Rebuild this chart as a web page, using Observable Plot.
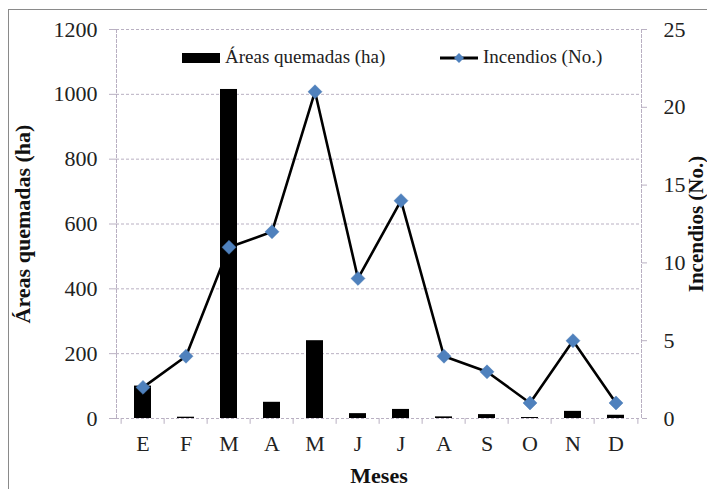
<!DOCTYPE html>
<html>
<head>
<meta charset="utf-8">
<script src="https://cdn.jsdelivr.net/npm/d3@7"></script>
<script src="https://cdn.jsdelivr.net/npm/@observablehq/plot@0.6"></script>
<style>
  html, body { margin: 0; padding: 0; background: #fff; }
  #wrap { position: relative; width: 707px; height: 489px; overflow: hidden; font-family: 'Liberation Serif', 'Tinos', 'DejaVu Serif', 'Times New Roman', serif; }
  #border { position: absolute; left: 8px; top: 9px; width: 720px; height: 500px; border-top: 1px solid #8a8a8a; border-left: 1px solid #8a8a8a; pointer-events: none; }
  #legend { position: absolute; top: 45px; left: 182px; font-size: 19px; color: #222; }
  .item { position: absolute; top: 0; white-space: nowrap; height: 24px; line-height: 24px; }
  svg text { font-family: 'Liberation Serif', 'Tinos', 'DejaVu Serif', 'Times New Roman', serif !important; }
</style>
</head>
<body>
<div id="wrap">
  <div id="chart"></div>
  <div id="legend">
    <div class="item" style="left:0px;">
      <span style="display:inline-block;width:38px;height:10px;background:#000;vertical-align:middle;margin-right:5px;position:relative;top:-1px;"></span><span id="lg1"></span>
    </div>
    <div class="item" style="left:258px;">
      <svg width="40" height="16" style="vertical-align:middle;margin-right:3px;position:relative;top:-1px;">
        <line x1="0" y1="8" x2="38" y2="8" stroke="#000" stroke-width="3"/>
        <path d="M19,3 L24,8 L19,13 L14,8 Z" fill="#4f81bd"/>
      </svg><span id="lg2"></span>
    </div>
  </div>
  <div id="border"></div>
</div>
<script>
const months = ["E","F","M","A","M","J","J","A","S","O","N","D"];
const areas = [100, 4, 1015, 50, 240, 15, 28, 5, 12, 3, 22, 10];
const fires = [2, 4, 11, 12, 21, 9, 14, 4, 3, 1, 5, 1];
const leftTicks = [0, 200, 400, 600, 800, 1000, 1200];
const rightTicks = [0, 5, 10, 15, 20, 25];
const seriesNames = ["Áreas quemadas (ha)", "Incendios (No.)"];
const xTitle = "Meses";

document.getElementById("lg1").textContent = seriesNames[0];
document.getElementById("lg2").textContent = seriesNames[1];

const W = 707, H = 489;
const mL = 116, mR = 66, mT = 29, mB = 71;
const k = 1200 / 25;
const idx = d3.range(months.length);
const half = (W - mL - mR) / months.length / 2;
const gridColor = "#b9b0c2";
const serif = "'Liberation Serif', 'Tinos', 'DejaVu Serif', 'Times New Roman', serif";

const chart = Plot.plot({
  width: W, height: H,
  marginLeft: mL, marginRight: mR, marginTop: mT, marginBottom: mB,
  style: { fontFamily: serif, fontSize: "22px", color: "#222", background: "transparent" },
  x: { type: "band", domain: idx, paddingInner: 0.61, paddingOuter: 0.305, axis: null },
  y: { domain: [0, 1200], axis: null },
  marks: [
    Plot.gridY(leftTicks, { stroke: gridColor, strokeOpacity: 1, strokeDasharray: "3,2" }),
    Plot.frame({ anchor: "left", stroke: gridColor, strokeDasharray: "3,2" }),
    Plot.frame({ anchor: "right", stroke: gridColor, strokeDasharray: "3,2" }),
    Plot.ruleX(idx, { x: d => d, y1: 0, y2: -18, dx: -half, stroke: gridColor }),
    Plot.ruleX([idx[idx.length - 1]], { x: d => d, y1: 0, y2: -18, dx: half, stroke: gridColor }),
    Plot.axisY(leftTicks, { anchor: "left", tickSize: 7, tickPadding: 12, stroke: gridColor, fontSize: 22, tickFormat: d => String(d), label: null }),
    Plot.axisY(rightTicks.map(v => v * k), { anchor: "right", tickSize: 5, tickPadding: 17, stroke: gridColor, fontSize: 22, tickFormat: d => String(d / k), label: null }),
    Plot.axisX(idx, { anchor: "bottom", tickSize: 0, tickPadding: 17, tickFormat: i => months[i], fontSize: 22, label: null }),
    Plot.barY(idx, { x: d => d, y: d => areas[d], fill: "#000" }),
    Plot.line(idx, { x: d => d, y: d => fires[d] * k, stroke: "#000", strokeWidth: 2.6 }),
    Plot.dot(idx, { x: d => d, y: d => fires[d] * k, symbol: "diamond2", r: 6.3, fill: "#4f81bd", stroke: "#4a7ab5", strokeWidth: 0.5 }),
    Plot.text([seriesNames[0]], { text: d => d, frameAnchor: "left", dx: -94, rotate: -90, fontWeight: "bold", fontSize: 22, fill: "#111", textAnchor: "middle", lineAnchor: "middle" }),
    Plot.text([seriesNames[1]], { text: d => d, frameAnchor: "right", dx: 55, rotate: -90, fontWeight: "bold", fontSize: 21, fill: "#111", textAnchor: "middle", lineAnchor: "middle" }),
    Plot.text([xTitle], { text: d => d, frameAnchor: "bottom", dy: 57, fontWeight: "bold", fontSize: 22, fill: "#111", lineAnchor: "middle" })
  ]
});
document.getElementById("chart").appendChild(chart);
</script>
</body>
</html>
